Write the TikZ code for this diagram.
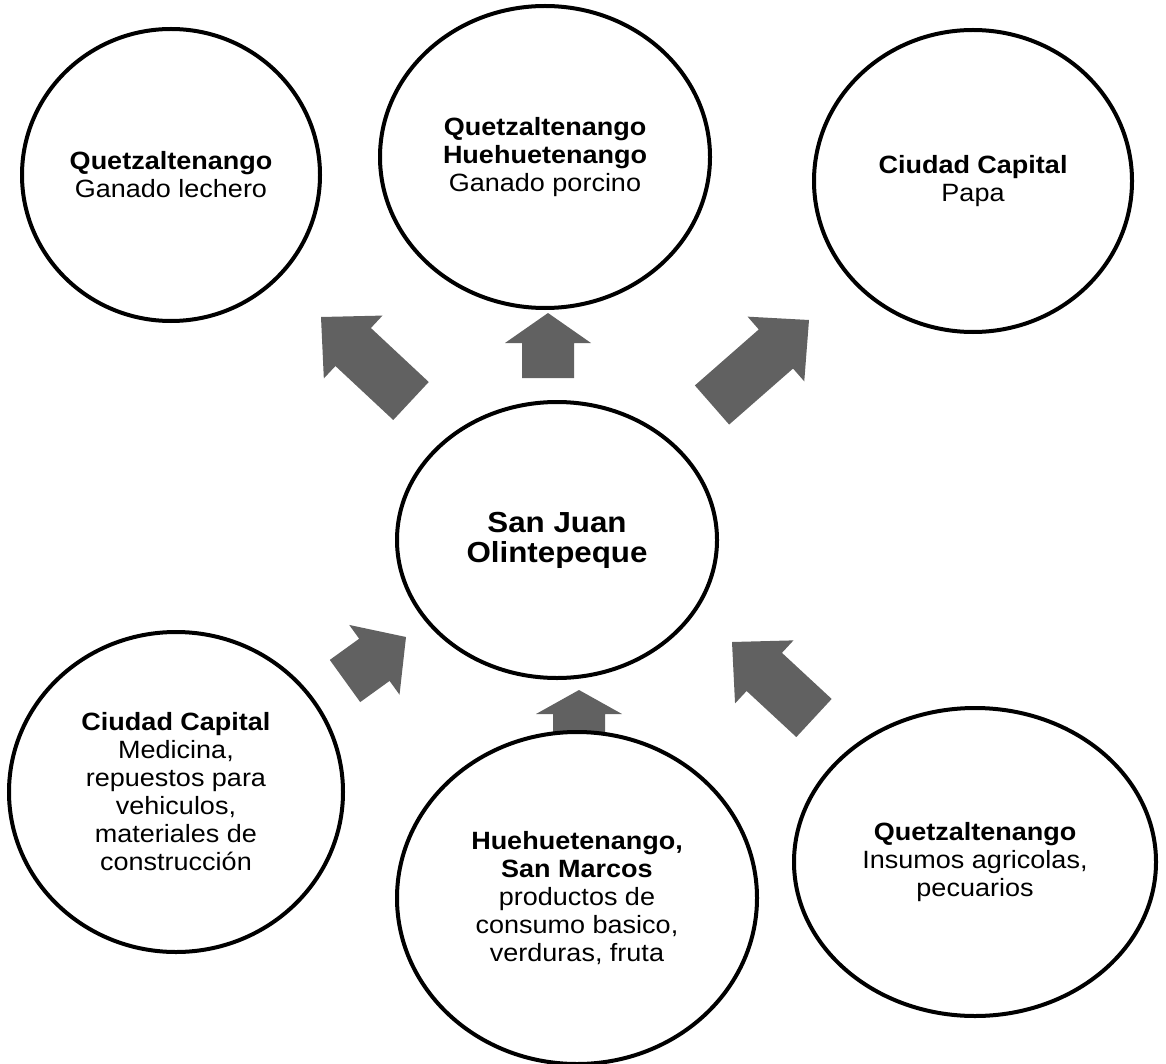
\documentclass[tikz,border=0pt]{standalone}
\usepackage{fontspec}
\setmainfont{Liberation Sans}[FakeStretch=1.08]
\usetikzlibrary{calc, shapes.geometric}
\tikzset{
  circulo/.style={draw, ellipse, line width=2pt, fill=white, inner sep=0pt,
    align=center, font=\fontsize{12.5}{14}\selectfont},
  flechagris/.style={fill=black!62}
}
\newcommand{\flecha}[3]{
  \coordinate (#1b) at ($(#2)!#3!(#1)$);
  \fill[flechagris] ($(#1)!13pt!90:(#2)$) -- ($(#1b)!13pt!90:(#2)$)
    -- ($(#1b)!21.5pt!90:(#2)$) -- (#2) -- ($(#1b)!21.5pt!-90:(#2)$)
    -- ($(#1b)!13pt!-90:(#2)$) -- ($(#1)!13pt!-90:(#2)$) -- cycle;
}

\begin{document}
\begin{tikzpicture}[x=0.5pt, y=-0.5pt]
    \useasboundingbox (0,0) rectangle (1166,1064);

    \coordinate (colaA) at (411,401);  \coordinate (puntaA) at (321,317);
    \coordinate (colaB) at (548,378);  \coordinate (puntaB) at (548,313);
    \coordinate (colaC) at (712,405);  \coordinate (puntaC) at (809,320);
    \coordinate (colaD) at (345,681);  \coordinate (puntaD) at (406,637);
    \coordinate (colaE) at (579,740);  \coordinate (puntaE) at (579,690);
    \coordinate (colaF) at (814,718);  \coordinate (puntaF) at (732,642);
    \flecha{colaA}{puntaA}{22pt}
    \flecha{colaB}{puntaB}{15pt}
    \flecha{colaC}{puntaC}{22pt}
    \flecha{colaD}{puntaD}{19.5pt}
    \flecha{colaE}{puntaE}{12pt}
    \flecha{colaF}{puntaF}{22pt}

    \node[circulo, minimum width=149pt, minimum height=146pt] (qlechero) at (171,175) {
      \textbf{Quetzaltenango} \\
      Ganado lechero
    };
    \node[circulo, minimum width=165pt, minimum height=151pt] (qhporcino) at (545,157) {
      \textbf{Quetzaltenango} \\
      \textbf{Huehuetenango} \\
      Ganado porcino
    };
    \node[circulo, minimum width=159pt, minimum height=151pt] (capitalpapa) at (973,181) {
      \textbf{Ciudad Capital} \\
      Papa
    };
    \node[circulo, minimum width=160pt, minimum height=138pt,
      font=\fontsize{14.5}{15}\selectfont\bfseries] (sanjuan) at (557,540) {
      San Juan \\
      Olintepeque
    };
    \node[circulo, minimum width=167pt, minimum height=160pt] (capitalmed) at (176,792) {
      \textbf{Ciudad Capital} \\
      Medicina, \\
      repuestos para \\
      vehiculos, \\
      materiales de \\
      construcción
    };
    \node[circulo, minimum width=180pt, minimum height=166pt] (huesanmarcos) at (577,898) {
      \textbf{Huehuetenango,} \\
      \textbf{San Marcos} \\
      productos de \\
      consumo basico, \\
      verduras, fruta
    };
    \node[circulo, minimum width=181pt, minimum height=154pt] (qinsumos) at (975,862) {
      \textbf{Quetzaltenango} \\
      Insumos agricolas, \\
      pecuarios
    };
  \end{tikzpicture}
\end{document}
